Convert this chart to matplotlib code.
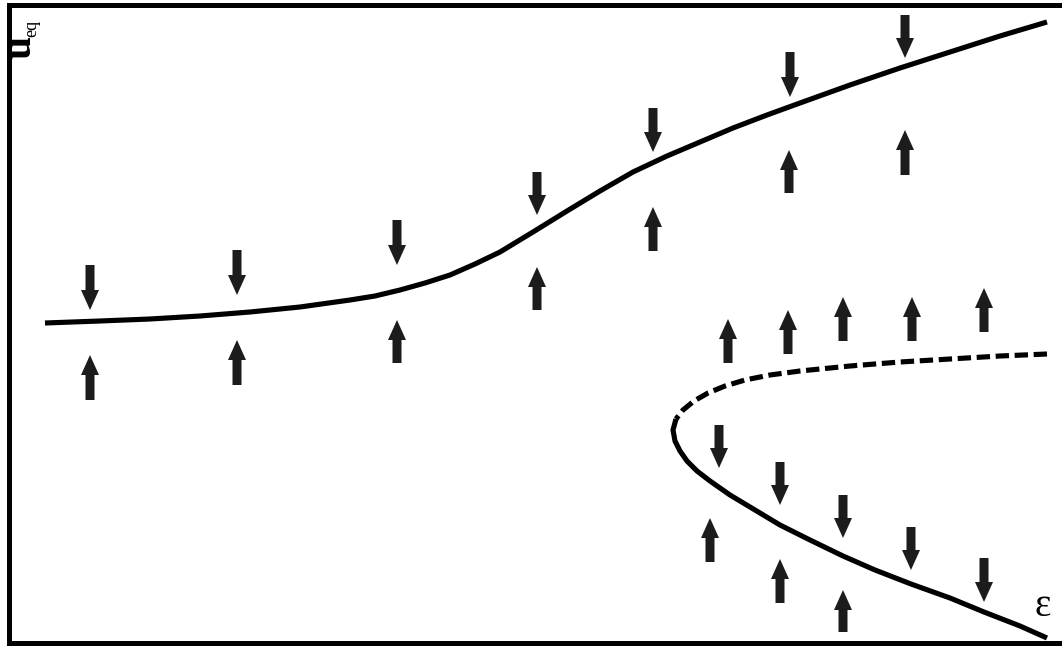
import matplotlib
matplotlib.use("Agg")
import matplotlib.pyplot as plt

# upper equilibrium branch (eps, u_eq)
upper_eps = [45, 100, 150, 200, 250, 300, 350, 375, 400, 425, 450, 475, 500, 533,
             567, 600, 633, 667, 700, 733, 767, 800, 850, 900, 950, 1000, 1047]
upper_u = [320, 322, 324, 327, 331, 336, 343, 347, 353, 360, 368, 379, 391, 411,
           432, 452, 471, 487, 501, 515, 528, 540, 558, 575, 591, 607, 621]

# lower fold: unstable part (dashed) and stable part (solid)
unstable_eps = [1047, 1000, 950, 900, 850, 800, 770, 745, 725, 708, 694, 683, 676]
unstable_u = [289, 287, 284, 281, 277, 272, 268, 263, 257, 250, 242, 233, 224]
stable_eps = [676, 673, 675, 680, 687, 697, 710, 730, 755, 780, 810, 843, 875,
              911, 950, 984, 1020, 1047]
stable_u = [224, 213, 202, 192, 182, 172, 162, 148, 133, 118, 103, 87, 73,
            59, 45, 31, 17, 5]

# flow arrows: position, tail, tip
down_x = [90, 237, 397, 537, 653, 790, 905, 719, 780, 843, 911, 984]
down_tail = [378, 393, 423, 471, 535, 591, 628, 218, 181, 148, 116, 85]
down_tip = [333, 348, 378, 428, 491, 546, 585, 175, 138, 105, 73, 41]
up_x = [90, 237, 397, 537, 653, 789, 905, 728, 788, 843, 912, 984,
        710, 780, 843]
up_tail = [243, 258, 280, 333, 392, 450, 468, 280, 289, 302, 302, 311,
           81, 40, 11]
up_tip = [288, 303, 323, 376, 436, 493, 513, 324, 333, 346, 346, 355,
          125, 84, 53]

fig = plt.figure(figsize=(10.62, 6.48), dpi=100)
ax = fig.add_axes([9 / 1062, 5 / 648, 1 - 9 / 1062, 638 / 648])
ax.set_xlim(9, 1062)
ax.set_ylim(0, 638)

ax.plot(upper_eps, upper_u, color="black", lw=3.7, solid_capstyle="butt",
        solid_joinstyle="round")
ax.plot(stable_eps, stable_u, color="black", lw=3.7, solid_capstyle="butt",
        solid_joinstyle="round")
ax.plot(unstable_eps, unstable_u, color="black", lw=3.7,
        linestyle=(0, (2.6, 1.1)), dash_capstyle="butt")

arrow_style = dict(width=9, head_width=18, head_length=20,
                   length_includes_head=True, color="#1c1c1c", lw=0)
for x, t0, t1 in zip(down_x, down_tail, down_tip):
    ax.arrow(x, t0, 0, t1 - t0, **arrow_style)
for x, t0, t1 in zip(up_x, up_tail, up_tip):
    ax.arrow(x, t0, 0, t1 - t0, **arrow_style)

for side in ["top", "left", "bottom"]:
    ax.spines[side].set_linewidth(3.6)
ax.spines["right"].set_visible(False)
ax.set_xticks([])
ax.set_yticks([])

ax.text(20, 596, "u", rotation=90, fontsize=30, fontweight="bold",
        family="Liberation Serif", ha="center", va="center")
ax.text(32, 615, "eq", rotation=90, fontsize=13,
        family="Liberation Serif", ha="center", va="center")
ax.text(1043, 37, "\u03b5", fontsize=28, family="Liberation Serif",
        ha="center", va="center")

fig.savefig("out.png", dpi=100)
